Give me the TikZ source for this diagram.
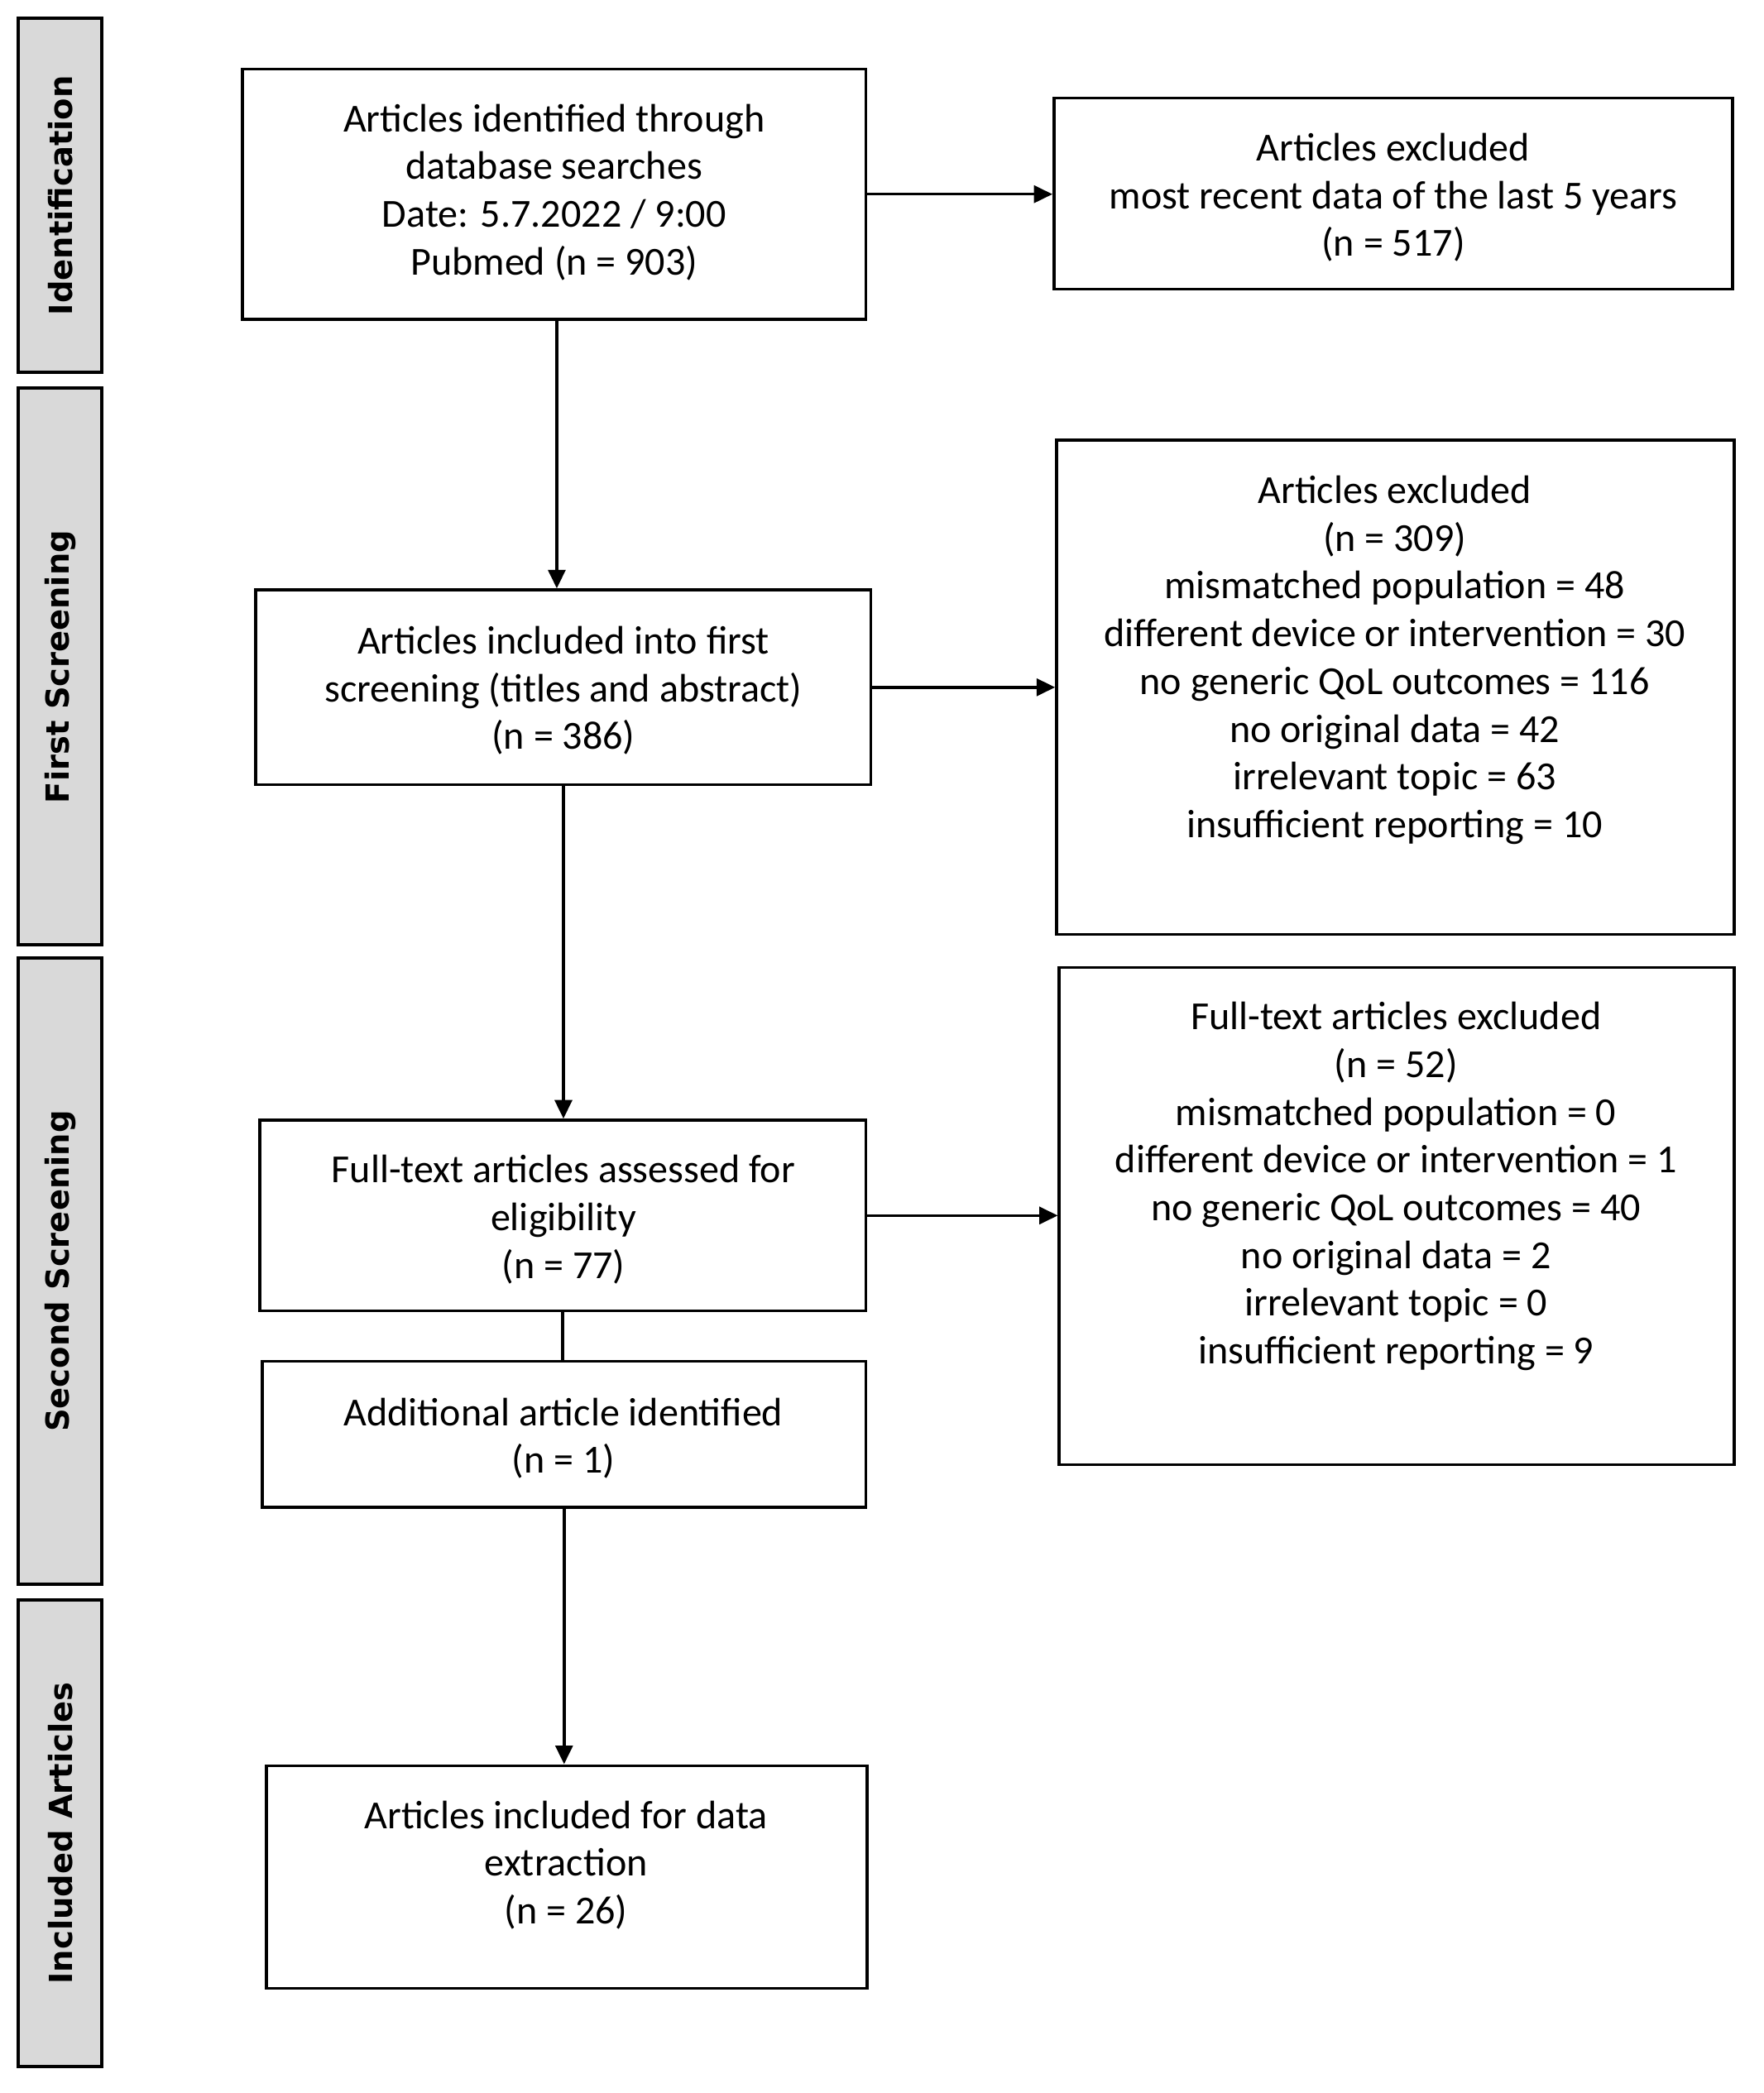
\documentclass[tikz,border=0pt]{standalone}
\usepackage{fontspec}
\setmainfont{Carlito}
\newfontfamily\barfont{DejaVu Sans}
\usetikzlibrary{arrows.meta}
\definecolor{bargray}{RGB}{217,217,217}
\begin{document}
\begin{tikzpicture}[x=1pt,y=-1pt,
  box/.style={draw=black, line width=2.2pt, fill=white, inner sep=0pt, rectangle},
  bar/.style={draw=black, line width=2.5pt, fill=bargray, inner sep=0pt, rectangle, minimum width=63pt},
  bartxt/.style={rotate=90, font=\barfont\bfseries\fontsize{24}{28}\selectfont},
  txt/.style={align=center, inner sep=0pt, font=\fontsize{30}{36}\selectfont},
  arr/.style={line width=2.2pt, -{Triangle[length=14pt,width=13pt]}},
  ln/.style={line width=2.2pt}]
\useasboundingbox (0,0) rectangle (1330,1579);
\fill[white] (0,0) rectangle (1330,1579);
% side bars
\node[bar, minimum height=267pt] (s1) at (45.5,147.5) {};
\node[bar, minimum height=420pt] (s2) at (45.5,503) {};
\node[bar, minimum height=472pt] (s3) at (45.5,959) {};
\node[bar, minimum height=352pt] (s4) at (45.5,1383) {};
\node[bartxt] (ls1) at (s1.center) {Identification};
\node[bartxt] (ls2) at (s2.center) {First Screening};
\node[bartxt] (ls3) at (s3.center) {Second Screening};
\node[bartxt] (ls4) at (s4.center) {Included Articles};
% boxes
\node[box, minimum width=470pt, minimum height=189pt] (b1) at (418,146.5) {};
\node[box, minimum width=512pt, minimum height=144pt] (e1) at (1051,146) {};
\node[box, minimum width=464pt, minimum height=147pt] (b2) at (425,518.5) {};
\node[box, minimum width=511pt, minimum height=373pt] (e2) at (1052.5,518.5) {};
\node[box, minimum width=457pt, minimum height=144pt] (b3) at (424.5,917) {};
\node[box, minimum width=509pt, minimum height=375pt] (e3) at (1053.5,917.5) {};
\node[box, minimum width=455pt, minimum height=110pt] (b4) at (425.5,1082) {};
\node[box, minimum width=453pt, minimum height=168pt] (b5) at (427.5,1416) {};
% texts
\node[txt] (t1) at (418,145) {Articles identified through\\database searches\\Date: 5.7.2022 / 9:00\\Pubmed (n = 903)};
\node[txt] (te1) at (1051,149) {Articles excluded\\most recent data of the last 5 years\\(n = 517)};
\node[txt] (t2) at (425,521) {Articles included into first\\screening (titles and abstract)\\(n = 386)};
\node[txt] (te2) at (1052,498) {Articles excluded\\(n = 309)\\mismatched population = 48\\different device or intervention = 30\\no generic QoL outcomes = 116\\no original data = 42\\irrelevant topic = 63\\insufficient reporting = 10};
\node[txt] (t3) at (425,920) {Full-text articles assessed for\\eligibility\\(n = 77)};
\node[txt] (te3) at (1053,895) {Full-text articles excluded\\(n = 52)\\mismatched population = 0\\different device or intervention = 1\\no generic QoL outcomes = 40\\no original data = 2\\irrelevant topic = 0\\insufficient reporting = 9};
\node[txt] (t4) at (425,1085) {Additional article identified\\(n = 1)};
\node[txt] (t5) at (427,1407) {Articles included for data\\extraction\\(n = 26)};
% connectors
\draw[arr] ([xshift=2pt]b1.south) -- ([xshift=2pt]b1.south |- b2.north);
\draw[arr] (b1.east) -- (b1.east -| e1.west);
\draw[arr] (b2.east) -- (b2.east -| e2.west);
\draw[arr] (b2.south) -- (b2.south |- b3.north);
\draw[arr] (b3.east) -- (b3.east -| e3.west);
\draw[ln] (b3.south) -- (b3.south |- b4.north);
\draw[arr] (b4.south) -- (b4.south |- b5.north);
\end{tikzpicture}
\end{document}
